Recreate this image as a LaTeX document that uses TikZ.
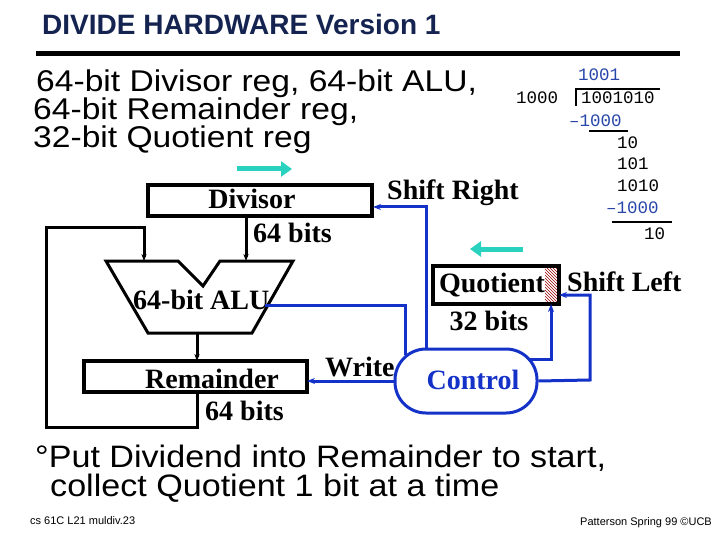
\documentclass[tikz,border=0pt]{standalone}
\usepackage{fontspec}
\setmainfont{Liberation Serif}
\setsansfont{Liberation Sans}
\setmonofont{Liberation Mono}
\usetikzlibrary{patterns,arrows.meta}
\definecolor{navy}{RGB}{20,35,80}
\definecolor{ctl}{RGB}{20,50,200}
\definecolor{teal2}{RGB}{40,210,190}
\definecolor{dblue}{RGB}{40,70,170}
\tikzset{
  reg/.style={draw,line width=3.5pt},
  blk/.style={font=\rmfamily\bfseries\fontsize{28}{28}\selectfont,inner sep=0},
  hd/.style={font=\sffamily\fontsize{30}{30}\selectfont,inner sep=0,anchor=west,xscale=1.12},
  mono/.style={font=\ttfamily\fontsize{17.5}{17.5}\selectfont,inner sep=0,anchor=west},
  bl/.style={draw=ctl,line width=3pt},
  bk/.style={draw,line width=3pt},
  tealarr/.style={draw=teal2,line width=5pt,-{Triangle[length=11pt,width=15pt]}},
}
\begin{document}
\begin{tikzpicture}[x=1pt,y=-1pt]
\useasboundingbox (0,0) rectangle (720,540);
\node[font=\sffamily\bfseries\fontsize{28}{28}\selectfont,text=navy,anchor=west,inner sep=0] (title) at (42,24) {DIVIDE HARDWARE Version 1};
\draw[line width=5pt] (36,54) -- (680,54);
\node[hd] (h1) at (36,84) {64-bit Divisor reg, 64-bit ALU,};
\node[hd] (h2) at (33,112) {64-bit Remainder reg,};
\node[hd] (h3) at (33,140) {32-bit Quotient reg};
% long division
\node[mono,text=dblue] (q) at (578,75) {1001};
\node[mono] (dv) at (516,98) {1000};
\node[mono] (dd) at (581,98) {1001010};
\draw[line width=2pt] (576,106) -- (576,89) -- (660,89);
\node[mono,text=dblue] (s1) at (569,121) {–1000};
\draw[line width=2.5pt] (589,131) -- (628,131);
\node[mono] (r1) at (617,143) {10};
\node[mono] (r2) at (617,164) {101};
\node[mono] (r3) at (617,186) {1010};
\node[mono,text=dblue] (s2) at (606,208) {–1000};
\draw[line width=2.5pt] (612,222) -- (672,222);
\node[mono] (r4) at (644,234) {10};
% registers
\draw[reg] (148,185) rectangle (372,216);
\coordinate (divR) at (373,207);
\node[blk] (divt) at (252,199) {Divisor};
\node[blk,anchor=west] (div64) at (253,233) {64 bits};
\draw[tealarr] (237,169) -- (292,169);
\draw[bk] (106,261) -- (178,261) -- (203,286) -- (220,261) -- (293,261) -- (252,333) -- (148,333) -- cycle;
\node[blk,anchor=west] (alut) at (133,300) {64-bit ALU};
\draw[reg] (84,361) rectangle (307,392);
\node[blk] (remt) at (212,379) {Remainder};
\node[blk,anchor=west] (rem64) at (205,411) {64 bits};
\draw[bk,-{Stealth[length=7pt]}] (246,216) -- (246,261);
\draw[bk,-{Stealth[length=7pt]}] (197,333) -- (197,361);
\draw[bk,-{Stealth[length=7pt]}] (197,392) -- (197,427) -- (46,427) -- (46,228) -- (144,228) -- (144,261);
% quotient
\fill[pattern=north west lines,pattern color=red!60!black] (545,266) rectangle (559,304);
\draw[reg] (433,266) rectangle (559,304);
\node[blk] (qt) at (492,285) {Quotient};
\node[blk] (q32) at (489,321) {32 bits};
\draw[tealarr] (523,249) -- (470,249);
\node[blk,anchor=west] (sl) at (567,282) {Shift Left};
\node[blk,anchor=west] (sr) at (387,193) {Shift Right};
% control
\node[draw=ctl,line width=3pt,rounded corners=31pt,minimum width=142pt,minimum height=64pt,inner sep=0] (ctrl) at (466,381) {};
\node[blk,text=ctl] (ctlt) at (473,380) {Control};
\node[blk,anchor=west] (wr) at (325,367) {Write};
\draw[bl,-{Stealth[length=8pt]}] (ctrl.west) -- (307,381);
\draw[bl] (265,305) -- (405,305) -- (405,355);
\draw[bl,-{Stealth[length=8pt]}] (426,350) -- (426,207) -- (divR);
\draw[bl,-{Stealth[length=8pt]}] (528,359) -- (551,359) -- (551,304);
\draw[bl,-{Stealth[length=8pt]}] (ctrl.east) -- (590,380) -- (590,295) -- (559,295);
% bottom
\node[font=\sffamily\fontsize{31}{31}\selectfont,inner sep=0,anchor=west,xscale=1.1] (b1) at (35,458) {°Put Dividend into Remainder to start,};
\node[font=\sffamily\fontsize{31}{31}\selectfont,inner sep=0,anchor=west,xscale=1.1] (b2) at (50,488) {collect Quotient 1 bit at a time};
\node[font=\sffamily\fontsize{11}{11}\selectfont,inner sep=0,anchor=west] (f1) at (30,521) {cs 61C L21 muldiv.23};
\node[font=\sffamily\fontsize{11}{11}\selectfont,inner sep=0,anchor=east] (f2) at (712,523) {Patterson Spring 99 ©UCB};
\end{tikzpicture}
\end{document}
